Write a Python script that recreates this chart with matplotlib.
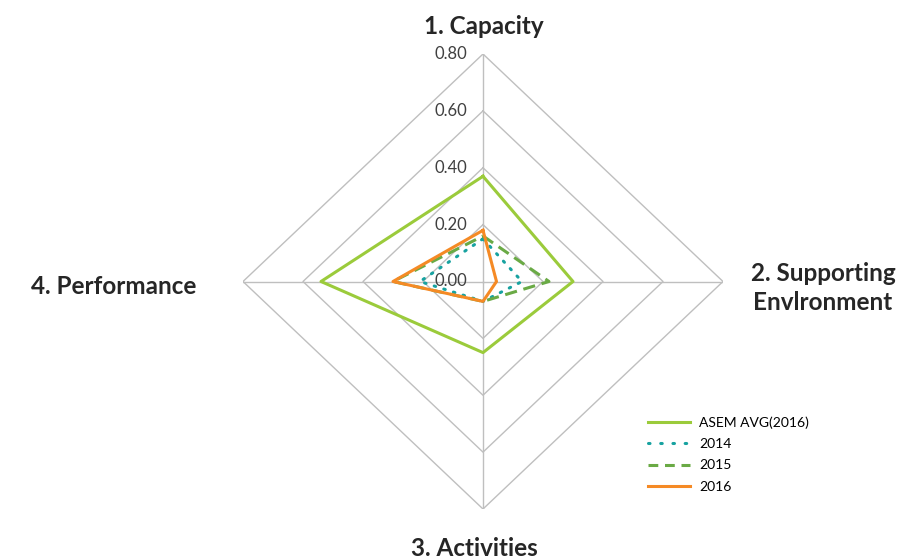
import numpy as np
import matplotlib.pyplot as plt
from matplotlib.lines import Line2D

plt.rcParams['font.family'] = ['Lato', 'DejaVu Sans']

# axes run clockwise starting from the top
categories = ['1. Capacity', '2. Supporting\nEnvlronment', '3. Activities', '4. Performance']
ring_levels = [0.2, 0.4, 0.6, 0.8]
ring_labels = ['0.00', '0.20', '0.40', '0.60', '0.80']

asem_avg_2016 = [0.37, 0.30, 0.25, 0.54]
score_2014 = [0.15, 0.13, 0.07, 0.21]
score_2015 = [0.16, 0.22, 0.07, 0.30]
score_2016 = [0.18, 0.045, 0.07, 0.30]

series_names = ['ASEM AVG(2016)', '2014', '2015', '2016']

GRID = '#BFBFBF'
DOTS = (0, (0.5, 2.8))
DASH = (0, (4, 2.2))


def to_xy(values):
    # turn radial values into cartesian points, closing the loop
    angles = np.arange(len(values)) * np.pi / 2
    v = np.asarray(values, dtype=float)
    x = v * np.sin(angles)
    y = v * np.cos(angles)
    return np.append(x, x[0]), np.append(y, y[0])


fig = plt.figure(figsize=(9, 5.6), dpi=100)
ax = fig.add_axes([243 / 900, 1 - 509 / 560, 480 / 900, 455 / 560])
ax.set_xlim(-0.8, 0.8)
ax.set_ylim(-0.8, 0.8)
ax.axis('off')

# diamond grid and spokes
for r in ring_levels:
    gx, gy = to_xy([r] * 4)
    ax.plot(gx, gy, color=GRID, lw=1.0, zorder=1)
sx, sy = to_xy([0.8] * 4)
for i in range(4):
    ax.plot([0, sx[i]], [0, sy[i]], color=GRID, lw=1.0, zorder=1)

# value labels along the top spoke
for val, lab in zip([0.0] + ring_levels, ring_labels):
    ax.text(-0.053, val, lab, ha='right', va='center', fontsize=12,
            color='#404040', zorder=5)

x, y = to_xy(asem_avg_2016)
ax.plot(x, y, color='#9BCB3B', lw=2.2, zorder=3)
x, y = to_xy(score_2014)
ax.plot(x, y, color='#17A2A0', lw=2.2, ls=DOTS, dash_capstyle='round', zorder=3)
x, y = to_xy(score_2015)
ax.plot(x, y, color='#6AAA45', lw=2.2, ls=DASH, zorder=3)
x, y = to_xy(score_2016)
ax.plot(x, y, color='#F58A25', lw=2.2, zorder=4)

# category labels around the chart
lab_kw = dict(fontsize=17.5, fontweight='bold', color='#262626')
fig.text(484 / 900, 1 - 27 / 560, categories[0], ha='center', va='center', **lab_kw)
fig.text(823 / 900, 1 - 288 / 560, categories[1], ha='center', va='center',
         linespacing=1.35, **lab_kw)
fig.text(474 / 900, 1 - 549 / 560, categories[2], ha='center', va='center', **lab_kw)
fig.text(114 / 900, 1 - 287 / 560, categories[3], ha='center', va='center', **lab_kw)

handles = [
    Line2D([], [], color='#9BCB3B', lw=2.2),
    Line2D([], [], color='#17A2A0', lw=2.2, ls=(0, (0.5, 3.5)), dash_capstyle='round'),
    Line2D([], [], color='#6AAA45', lw=2.2, ls=(0, (3.2, 2.2))),
    Line2D([], [], color='#F58A25', lw=2.2),
]
fig.legend(handles, series_names, loc='upper left',
           bbox_to_anchor=(648 / 900, 1 - 416 / 560), frameon=False,
           fontsize=10, handlelength=3.0, handletextpad=0.7,
           labelspacing=0.68, borderaxespad=0, borderpad=0)

fig.savefig('out.png', dpi=100, facecolor='white')
